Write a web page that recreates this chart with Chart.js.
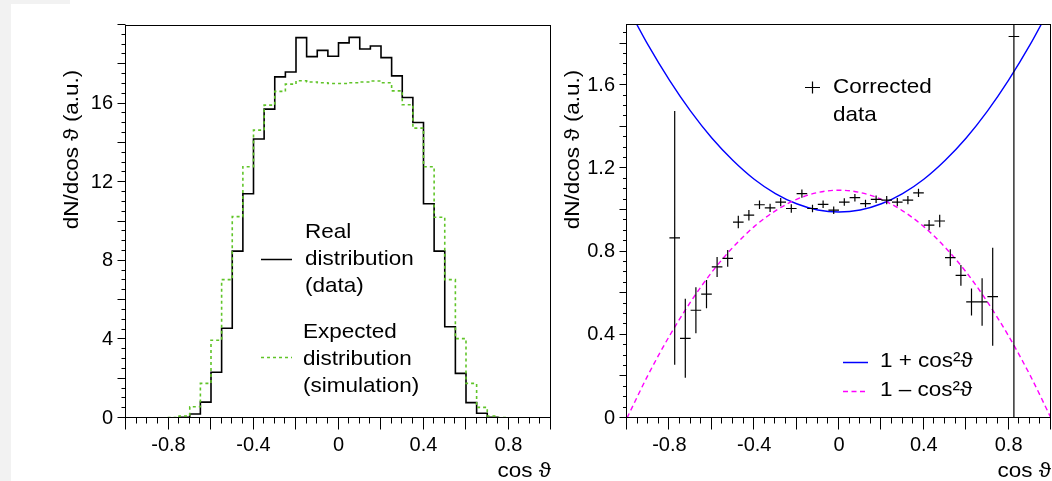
<!DOCTYPE html>
<html>
<head>
<meta charset="utf-8">
<script src="https://cdn.jsdelivr.net/npm/chart.js@4.4.1/dist/chart.umd.min.js"></script>
<style>
  html, body { margin: 0; padding: 0; background: #fff; }
  #wrap { position: relative; width: 1052px; height: 481px; overflow: hidden; }
  .strip { position: absolute; background: #f2f2f2; }
  canvas { position: absolute; top: 0; }
</style>
</head>
<body>
<div id="wrap">
  <div class="strip" style="left:0;top:0;width:11px;height:481px"></div>
  <div class="strip" style="left:0;top:0;width:70px;height:4px"></div>
  <canvas id="left" width="570" height="481" style="left:0"></canvas>
  <canvas id="right" width="492" height="481" style="left:560px"></canvas>
</div>
<script>
Chart.defaults.color = '#000';
Chart.defaults.font.family = "'Liberation Sans', Arial, Helvetica, sans-serif";
Chart.defaults.font.size = 20;

// left panel: histogram, bins of 0.05 (lower edges)
const binLow = [-1, -0.95, -0.9, -0.85, -0.8, -0.75, -0.7, -0.65, -0.6, -0.55,
  -0.5, -0.45, -0.4, -0.35, -0.3, -0.25, -0.2, -0.15, -0.1, -0.05,
  0, 0.05, 0.1, 0.15, 0.2, 0.25, 0.3, 0.35, 0.4, 0.45,
  0.5, 0.55, 0.6, 0.65, 0.7, 0.75, 0.8, 0.85, 0.9, 0.95];
const realDist = [0, 0, 0, 0, 0, 0.03, 0.2, 0.81, 2.33, 4.57,
  8.49, 11.41, 14.2, 15.72, 17.36, 17.61, 19.36, 18.39, 18.71, 18.41,
  19.09, 19.37, 18.78, 18.93, 18.34, 17.41, 16.31, 15.04, 10.9, 8.49,
  4.64, 2.27, 0.78, 0.24, 0.03, 0, 0, 0, 0, 0];
const simDist = [0, 0, 0, 0, 0.02, 0.1, 0.57, 1.76, 3.96, 7.04,
  10.25, 12.79, 14.65, 15.92, 16.62, 16.99, 17.16, 17.1, 17.06, 17.02,
  17.02, 17.06, 17.1, 17.15, 17.06, 16.65, 15.94, 14.75, 12.79, 10.22,
  7.04, 4.04, 1.76, 0.54, 0.1, 0.02, 0, 0, 0, 0];

// right panel: corrected data (bin centres, values, errors)
const corrX = [-0.775, -0.725, -0.675, -0.625, -0.575, -0.525, -0.475, -0.425,
  -0.375, -0.325, -0.275, -0.225, -0.175, -0.125, -0.075, -0.025,
  0.025, 0.075, 0.125, 0.175, 0.225, 0.275, 0.325, 0.375,
  0.425, 0.475, 0.525, 0.575, 0.625, 0.675, 0.725, 0.825];
const corrY = [0.866, 0.383, 0.518, 0.595, 0.726, 0.767, 0.942, 0.975,
  1.025, 1.01, 1.038, 1.007, 1.079, 1.007, 1.027, 0.999,
  1.038, 1.059, 1.031, 1.051, 1.047, 1.038, 1.047, 1.082,
  0.927, 0.947, 0.771, 0.686, 0.558, 0.558, 0.583, 1.834];
const corrErr = [0.61, 0.19, 0.11, 0.068, 0.048, 0.04, 0.03, 0.025,
  0.02, 0.02, 0.02, 0.02, 0.02, 0.018, 0.018, 0.018,
  0.018, 0.018, 0.018, 0.018, 0.02, 0.02, 0.02, 0.02,
  0.025, 0.03, 0.04, 0.05, 0.065, 0.114, 0.236, 2.6];

// model curves read at steps of 0.1
const curveX = [-1, -0.9, -0.8, -0.7, -0.6, -0.5, -0.4, -0.3, -0.2, -0.1, 0,
  0.1, 0.2, 0.3, 0.4, 0.5, 0.6, 0.7, 0.8, 0.9, 1];
const plusCos2 = [1.98, 1.792, 1.624, 1.475, 1.346, 1.238, 1.148, 1.079, 1.03, 1.0, 0.99,
  1.0, 1.03, 1.079, 1.148, 1.238, 1.346, 1.475, 1.624, 1.792, 1.98];
const minusCos2 = [0, 0.208, 0.394, 0.558, 0.701, 0.821, 0.92, 0.996, 1.051, 1.084, 1.095,
  1.084, 1.051, 0.996, 0.92, 0.821, 0.701, 0.558, 0.394, 0.208, 0];

const xTicks = [-0.8, -0.4, 0, 0.4, 0.8];
const leftYTicks = [0, 4, 8, 12, 16];
const rightYTicks = [0, 0.4, 0.8, 1.2, 1.6];

const TXT = "21px 'Liberation Sans', Arial, Helvetica, sans-serif";
const ytitle = 'dN/dcos \u03D1 (a.u.)';

function steps(vals) {
  const pts = binLow.map((x, i) => ({ x, y: vals[i] }));
  pts.push({ x: 1, y: vals[vals.length - 1] });
  return pts;
}

function text(ctx, t, x, y, align, rot) {
  ctx.save();
  ctx.translate(x, y);
  if (rot) ctx.rotate(rot);
  ctx.scale(1.07, 1);
  ctx.font = TXT;
  ctx.fillStyle = '#000';
  ctx.textAlign = align;
  ctx.textBaseline = 'alphabetic';
  ctx.fillText(t, 0, 0);
  ctx.restore();
}

function sample(ctx, x0, x1, y, color, dash, w) {
  ctx.save();
  ctx.strokeStyle = color;
  ctx.lineWidth = w;
  ctx.setLineDash(dash);
  ctx.beginPath();
  ctx.moveTo(x0, y);
  ctx.lineTo(x1, y);
  ctx.stroke();
  ctx.restore();
}

// ROOT-like frame with outward ticks
const frame = {
  id: 'frame',
  afterDraw(chart, args, o) {
    const { ctx, chartArea: a, scales: { x, y } } = chart;
    const L = a.left - 0.5, T = a.top + 0.5, R = a.right - 0.5, B = a.bottom - 0.5;
    ctx.save();
    ctx.strokeStyle = '#000';
    ctx.lineWidth = 1;
    ctx.strokeRect(L, T, R - L, B - T);
    ctx.beginPath();
    const nx = Math.round((x.max - x.min) / o.xMinor);
    for (let i = 0; i <= nx; i++) {
      const v = x.min + i * o.xMinor;
      const r = v / o.xMajor;
      const big = Math.abs(r - Math.round(r)) < 1e-6;
      const px = Math.round(x.getPixelForValue(v)) - 0.5;
      ctx.moveTo(px, B);
      ctx.lineTo(px, B + (big ? 12 : 6));
    }
    const ny = Math.floor((y.max - y.min) / o.yMinor + 1e-6);
    for (let i = 0; i <= ny; i++) {
      const v = y.min + i * o.yMinor;
      const r = v / o.yMajor;
      const big = Math.abs(r - Math.round(r)) < 1e-6;
      const py = Math.round(y.getPixelForValue(v)) - 0.5;
      ctx.moveTo(L, py);
      ctx.lineTo(L - (big ? o.yBig : o.ySmall), py);
    }
    ctx.stroke();
    ctx.restore();
    o.labels(ctx);
  }
};

// error crosses for the corrected data
const errorBars = {
  id: 'errorBars',
  afterDatasetsDraw(chart) {
    const { ctx, chartArea: a, scales: { x, y } } = chart;
    const ds = chart.data.datasets.find(d => d.errors);
    if (!ds) return;
    ctx.save();
    ctx.beginPath();
    ctx.rect(a.left, a.top, a.right - a.left, a.bottom - a.top);
    ctx.clip();
    ctx.strokeStyle = '#000';
    ctx.lineWidth = 1.2;
    ctx.beginPath();
    ds.data.forEach((p, i) => {
      const e = ds.errors[i];
      const py = y.getPixelForValue(p.y);
      ctx.moveTo(x.getPixelForValue(p.x - 0.025), py);
      ctx.lineTo(x.getPixelForValue(p.x + 0.025), py);
      const px = x.getPixelForValue(p.x);
      ctx.moveTo(px, y.getPixelForValue(p.y + e));
      ctx.lineTo(px, y.getPixelForValue(p.y - e));
    });
    ctx.stroke();
    ctx.restore();
  }
};

function scales(yMax, yTickList, yWidth, yPad) {
  return {
    x: {
      type: 'linear', min: -1, max: 1,
      afterBuildTicks: s => { s.ticks = xTicks.map(v => ({ value: v })); },
      afterFit: s => { s.height = 63; },
      ticks: { padding: 15, callback: v => String(v), maxRotation: 0, autoSkip: false },
      grid: { display: false, drawTicks: false },
      border: { display: false }
    },
    y: {
      type: 'linear', min: 0, max: yMax,
      afterBuildTicks: s => { s.ticks = yTickList.map(v => ({ value: v })); },
      afterFit: s => { s.width = yWidth; },
      ticks: { padding: yPad, callback: v => String(v), autoSkip: false },
      grid: { display: false, drawTicks: false },
      border: { display: false }
    }
  };
}

new Chart(document.getElementById('left'), {
  type: 'line',
  data: {
    datasets: [
      { label: 'Expected distribution (simulation)', data: steps(simDist), stepped: 'before',
        borderColor: 'rgb(96,196,40)', borderWidth: 1.6, borderDash: [3, 3], pointRadius: 0 },
      { label: 'Real distribution (data)', data: steps(realDist), stepped: 'before',
        borderColor: '#000', borderWidth: 1.6, pointRadius: 0 }
    ]
  },
  options: {
    responsive: false,
    animation: false,
    layout: { padding: { left: 0, top: 23, right: 19, bottom: 0 } },
    scales: scales(20, leftYTicks, 126, 13),
    plugins: {
      legend: { display: false },
      tooltip: { enabled: false },
      frame: {
        xMinor: 0.05, xMajor: 0.2, yMinor: 0.5, yMajor: 2, yBig: 8, ySmall: 4,
        labels: ctx => {
          text(ctx, ytitle, 78, 149.5, 'center', -Math.PI / 2);
          text(ctx, 'cos \u03D1', 551, 477, 'right');
          sample(ctx, 261, 292, 259.5, '#000', [], 1.5);
          text(ctx, 'Real', 305, 238, 'left');
          text(ctx, 'distribution', 305, 265, 'left');
          text(ctx, '(data)', 305, 292, 'left');
          sample(ctx, 261, 292, 357.5, 'rgb(96,196,40)', [3, 3], 1.5);
          text(ctx, 'Expected', 303, 338, 'left');
          text(ctx, 'distribution', 303, 365, 'left');
          text(ctx, '(simulation)', 303, 392, 'left');
        }
      }
    }
  },
  plugins: [frame]
});

new Chart(document.getElementById('right'), {
  type: 'line',
  data: {
    datasets: [
      { label: 'Corrected data', data: corrX.map((x, i) => ({ x, y: corrY[i] })), errors: corrErr,
        showLine: false, pointRadius: 0 },
      { label: '1 - cos²ϑ', data: curveX.map((x, i) => ({ x, y: minusCos2[i] })),
        borderColor: '#ff00ff', borderWidth: 1.4, borderDash: [5, 3.5], pointRadius: 0,
        cubicInterpolationMode: 'monotone' },
      { label: '1 + cos²ϑ', data: curveX.map((x, i) => ({ x, y: plusCos2[i] })),
        borderColor: '#0000ff', borderWidth: 1.4, pointRadius: 0,
        cubicInterpolationMode: 'monotone' }
    ]
  },
  options: {
    responsive: false,
    animation: false,
    layout: { padding: { left: 0, top: 23, right: 1, bottom: 0 } },
    scales: scales(1.894, rightYTicks, 67, 12),
    plugins: {
      legend: { display: false },
      tooltip: { enabled: false },
      frame: {
        xMinor: 0.05, xMajor: 0.2, yMinor: 0.05, yMajor: 0.2, yBig: 7, ySmall: 3.5,
        labels: ctx => {
          text(ctx, ytitle, 18.5, 149.5, 'center', -Math.PI / 2);
          text(ctx, 'cos \u03D1', 491, 477, 'right');
          ctx.save();
          ctx.strokeStyle = '#000';
          ctx.lineWidth = 1.2;
          ctx.beginPath();
          ctx.moveTo(245, 87.5); ctx.lineTo(260, 87.5);
          ctx.moveTo(252.5, 81.5); ctx.lineTo(252.5, 93.5);
          ctx.stroke();
          ctx.restore();
          text(ctx, 'Corrected', 273, 93, 'left');
          text(ctx, 'data', 273, 121, 'left');
          sample(ctx, 283, 308, 362.5, '#0000ff', [], 1.5);
          text(ctx, '1 + cos\u00B2\u03D1', 320, 367, 'left');
          sample(ctx, 283, 308, 391.5, '#ff00ff', [5, 3.5], 1.5);
          text(ctx, '1 \u2013 cos\u00B2\u03D1', 320, 396, 'left');
        }
      }
    }
  },
  plugins: [frame, errorBars]
});
</script>
</body>
</html>
